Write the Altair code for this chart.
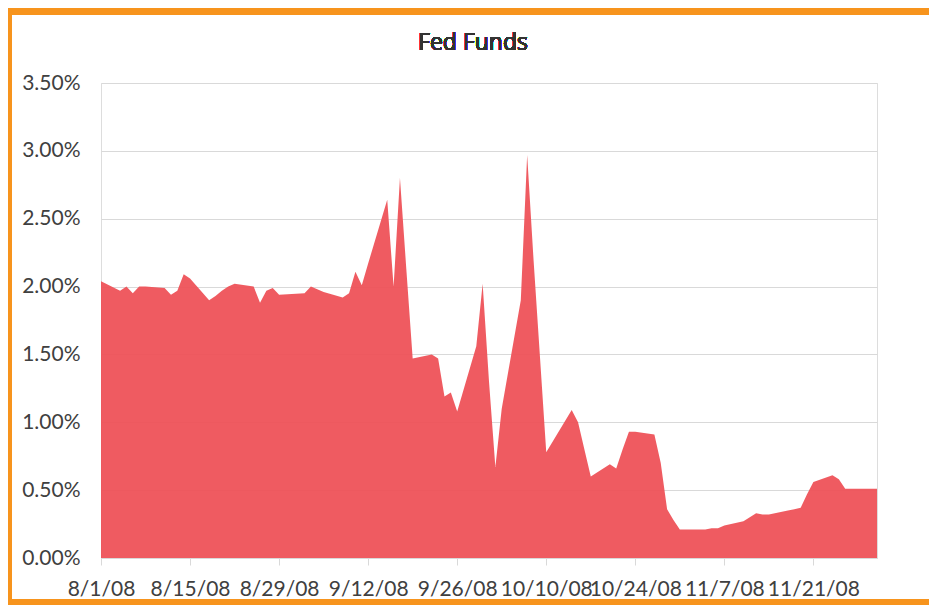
import altair as alt
import pandas as pd

dates = [
    "2008-08-01", "2008-08-04", "2008-08-05", "2008-08-06", "2008-08-07", "2008-08-08",
    "2008-08-11", "2008-08-12", "2008-08-13", "2008-08-14", "2008-08-15",
    "2008-08-18", "2008-08-19", "2008-08-20", "2008-08-21", "2008-08-22",
    "2008-08-25", "2008-08-26", "2008-08-27", "2008-08-28", "2008-08-29",
    "2008-09-02", "2008-09-03", "2008-09-04", "2008-09-05",
    "2008-09-08", "2008-09-09", "2008-09-10", "2008-09-11", "2008-09-12",
    "2008-09-15", "2008-09-16", "2008-09-17", "2008-09-18", "2008-09-19",
    "2008-09-22", "2008-09-23", "2008-09-24", "2008-09-25", "2008-09-26",
    "2008-09-29", "2008-09-30", "2008-10-01", "2008-10-02", "2008-10-03",
    "2008-10-06", "2008-10-07", "2008-10-08", "2008-10-09", "2008-10-10",
    "2008-10-14", "2008-10-15", "2008-10-16", "2008-10-17",
    "2008-10-20", "2008-10-21", "2008-10-22", "2008-10-23", "2008-10-24",
    "2008-10-27", "2008-10-28", "2008-10-29", "2008-10-30", "2008-10-31",
    "2008-11-03", "2008-11-04", "2008-11-05", "2008-11-06", "2008-11-07",
    "2008-11-10", "2008-11-12", "2008-11-13", "2008-11-14",
    "2008-11-17", "2008-11-18", "2008-11-19", "2008-11-20", "2008-11-21",
    "2008-11-24", "2008-11-25", "2008-11-26", "2008-11-28", "2008-12-01",
]
rates_pct = [
    2.04, 1.97, 2.00, 1.95, 2.00, 2.00,
    1.99, 1.94, 1.97, 2.09, 2.06,
    1.90, 1.93, 1.97, 2.00, 2.02,
    2.00, 1.88, 1.97, 1.99, 1.94,
    1.95, 2.00, 1.98, 1.96,
    1.92, 1.95, 2.11, 2.01, 2.17,
    2.64, 2.00, 2.80, 2.13, 1.47,
    1.50, 1.47, 1.19, 1.22, 1.08,
    1.56, 2.02, 1.30, 0.67, 1.10,
    1.90, 2.97, 2.20, 1.49, 0.78,
    1.09, 1.00, 0.80, 0.60,
    0.69, 0.66, 0.80, 0.93, 0.93,
    0.91, 0.70, 0.36, 0.28, 0.21,
    0.21, 0.21, 0.22, 0.22, 0.24,
    0.27, 0.33, 0.32, 0.32,
    0.35, 0.36, 0.37, 0.47, 0.56,
    0.61, 0.58, 0.51, 0.51, 0.51,
]
tick_dates = [(2008, 8, 1), (2008, 8, 15), (2008, 8, 29), (2008, 9, 12), (2008, 9, 26),
              (2008, 10, 10), (2008, 10, 24), (2008, 11, 7), (2008, 11, 21)]
y_ticks = [0.0, 0.005, 0.01, 0.015, 0.02, 0.025, 0.03, 0.035]
title_text = "Fed Funds"

df = pd.DataFrame({"date": dates, "rate": [r / 100 for r in rates_pct]})

FONT = "Lato"
TXT = "#404040"
GRID = "#d9d9d9"

x_enc = alt.X(
    "date:T",
    scale=alt.Scale(type="utc",
                    domain=[alt.DateTime(year=2008, month=8, date=1, utc=True),
                            alt.DateTime(year=2008, month=12, date=1, utc=True)]),
    axis=alt.Axis(
        title=None,
        values=[alt.DateTime(year=y, month=m, date=d, utc=True) for (y, m, d) in tick_dates],
        labelExpr="utcFormat(datum.value, '%-m/%-d/%y')",
        grid=False, domainColor=GRID, tickColor=GRID, tickSize=7,
        labelFontSize=21, labelFont=FONT, labelColor=TXT, labelPadding=13,
        labelOverlap=False, labelFlush=False,
    ),
)
y_enc = alt.Y(
    "rate:Q",
    scale=alt.Scale(domain=[0, 0.035], nice=False),
    axis=alt.Axis(
        title=None, values=y_ticks, format=".2%",
        grid=True, gridColor=GRID, domain=False, ticks=False, tickSize=0,
        labelFontSize=21, labelFont=FONT, labelColor=TXT, labelPadding=21,
    ),
)

area = alt.Chart(df).mark_area(color="#EE4F55", opacity=0.93, interpolate="linear").encode(
    x=x_enc, y=y_enc
)

title_mark = alt.Chart(df).mark_text(
    text=title_text, font="Open Sans", fontSize=23, fontWeight="normal", color="#333333",
    align="center", baseline="middle"
).encode(x=alt.value(372), y=alt.value(-40))

frame = alt.Chart(df).mark_rect(fill=None, stroke="#F7941D", strokeWidth=8).encode(
    x=alt.value(-93), x2=alt.value(850), y=alt.value(-72), y2=alt.value(520)
)

chart = alt.layer(area, title_mark, frame).properties(
    width=776, height=475,
    autosize=alt.AutoSizeParams(type="none"),
    padding={"left": 93, "top": 75, "right": 52, "bottom": 47},
).configure_view(stroke=None).configure(background="white")

chart.save("out.html", embed_options={"renderer": "svg", "actions": False})
